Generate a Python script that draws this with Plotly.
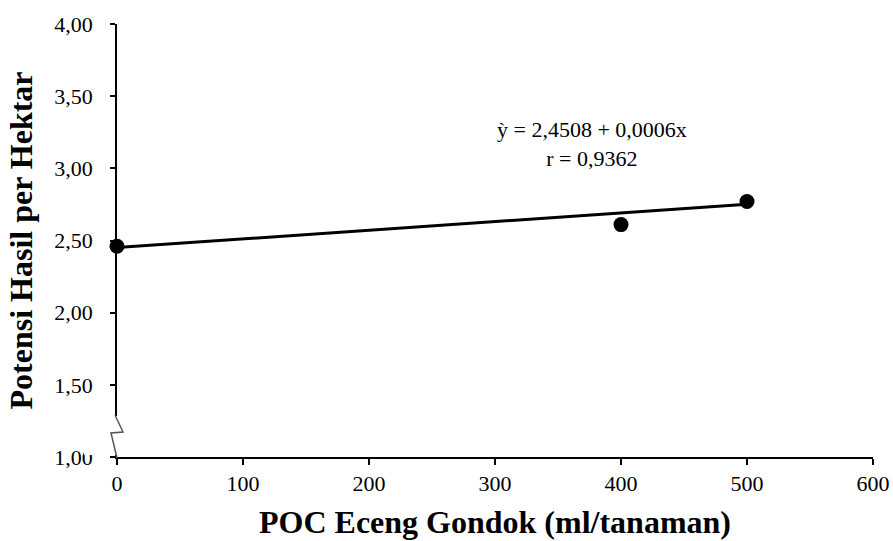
import plotly.graph_objects as go

# Data
poc_dose = [0, 400, 500]
hasil = [2.46, 2.61, 2.77]
intercept = 2.4508
slope = 0.0006
r_value = 0.9362
x_ticks = [0, 100, 200, 300, 400, 500, 600]
y_ticks = [1.0, 1.5, 2.0, 2.5, 3.0, 3.5, 4.0]

W, H = 893, 541
ML, MR, MT, MB = 117, 20, 24, 84
PW, PH = W - ML - MR, H - MT - MB

def px(xp):
    return (xp - ML) / PW

def py(yp):
    return (H - MB - yp) / PH

line_x = [min(poc_dose), max(poc_dose)]
line_y = [intercept + slope * v for v in line_x]

fig = go.Figure()
fig.add_trace(go.Scatter(x=line_x, y=line_y, mode="lines",
                         line=dict(color="black", width=3), showlegend=False, cliponaxis=False))
fig.add_trace(go.Scatter(x=poc_dose, y=hasil, mode="markers",
                         marker=dict(color="black", size=15), showlegend=False, cliponaxis=False))

font_family = "Liberation Serif, Times New Roman, serif"

fig.update_layout(
    width=W, height=H,
    margin=dict(l=ML, r=MR, t=MT, b=MB),
    paper_bgcolor="white", plot_bgcolor="white",
    separators=",.",
    font=dict(family=font_family, size=22, color="black"),
    xaxis=dict(range=[0, 600], tickvals=x_ticks, showgrid=False, zeroline=False,
               showline=True, linecolor="black", linewidth=1.5, automargin=False,
               ticks="outside", ticklen=6, tickcolor="black", tickwidth=1.5,
               tickfont=dict(size=22, family=font_family),
               title=dict(text="<b>POC Eceng Gondok (ml/tanaman)</b>",
                          font=dict(size=32, family=font_family), standoff=15)),
    yaxis=dict(range=[1, 4], tickvals=y_ticks, tickformat=".2f", showgrid=False, zeroline=False,
               showline=True, linecolor="black", linewidth=1.5, automargin=False,
               ticks="outside", ticklen=5, tickcolor="black", tickwidth=1.5,
               tickfont=dict(size=22, family=font_family), ticklabelstandoff=13,
               title=dict(text="<b>Potensi Hasil per Hektar</b>",
                          font=dict(size=32, family=font_family), standoff=12)),
)

eq_text = f"ỳ = {intercept:.4f} + {slope:.4f}x".replace(".", ",")
r_text = f"r = {r_value:.4f}".replace(".", ",")
fig.add_annotation(xref="x", yref="y", x=377, y=3.37,
                   text=f"{eq_text}<br>{r_text}",
                   showarrow=False, font=dict(size=22, family=font_family), align="center",
                   xanchor="center", yanchor="top")

# axis break decoration
fig.add_shape(type="rect", xref="paper", yref="paper",
              x0=px(84), x1=px(124), y0=py(455), y1=py(416),
              fillcolor="white", line=dict(width=0), layer="above")
fig.add_shape(type="path", xref="paper", yref="paper",
              path=f"M {px(115)} {py(415)} L {px(123)} {py(432)} L {px(111)} {py(433)} L {px(117)} {py(458)}",
              line=dict(color="#555555", width=1.5), layer="above")

fig.write_html("out.html", config={"displayModeBar": False},
               post_script="document.body.style.margin='0';")
